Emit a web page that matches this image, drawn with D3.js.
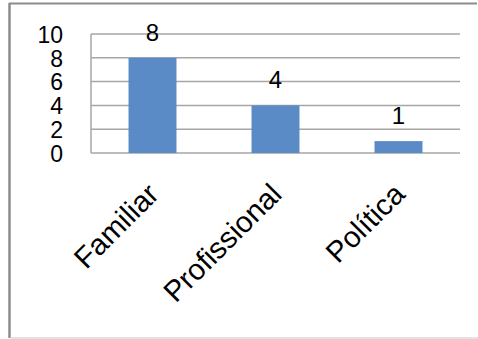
<!DOCTYPE html>
<html>
<head>
<meta charset="utf-8">
<script src="https://cdn.jsdelivr.net/npm/d3@7"></script>
<style>
  html, body { margin: 0; padding: 0; background: #fff; }
  svg { display: block; }
  text { font-family: "Liberation Sans", Arial, sans-serif; fill: #000; }
</style>
</head>
<body>
<svg id="chart" width="478" height="339"></svg>
<script>
// Categories and counts
const categories = ["Familiar", "Profissional", "Política"];
const values = [8, 4, 1];
const yTicks = [0, 2, 4, 6, 8, 10];

const svg = d3.select("#chart");

// Frame around the chart
svg.append("line").attr("x1", 9).attr("x2", 477).attr("y1", 3.5).attr("y2", 3.5)
  .attr("stroke", "#8c8c8c").attr("stroke-width", 2);
svg.append("line").attr("x1", 9.5).attr("x2", 9.5).attr("y1", 3).attr("y2", 338)
  .attr("stroke", "#8c8c8c").attr("stroke-width", 2.5);
svg.append("line").attr("x1", 10).attr("x2", 478).attr("y1", 338).attr("y2", 338)
  .attr("stroke", "#d9d9d9").attr("stroke-width", 1.5);

const plot = { left: 91, right: 460, top: 34, bottom: 153 };

const x = d3.scaleBand().domain(categories).range([plot.left, plot.right]).paddingInner(0.61).paddingOuter(0.305);
const y = d3.scaleLinear().domain([0, 10]).range([plot.bottom, plot.top]);

// Gridlines
svg.append("g").selectAll("line").data(yTicks).join("line")
  .attr("x1", plot.left).attr("x2", plot.right)
  .attr("y1", d => y(d)).attr("y2", d => y(d))
  .attr("stroke", "#a6a6a6").attr("stroke-width", 1.5);

// Value axis line
svg.append("line").attr("x1", plot.left).attr("x2", plot.left)
  .attr("y1", plot.top).attr("y2", plot.bottom)
  .attr("stroke", "#a6a6a6").attr("stroke-width", 1.5);

// Y tick labels
const yAxis = d3.axisLeft(y).tickValues(yTicks).tickSize(0).tickPadding(28);
const gy = svg.append("g").attr("transform", `translate(${plot.left},0)`).call(yAxis);
gy.select(".domain").remove();
gy.selectAll("text").style("font-size", "23px").attr("font-family", null).attr("dy", "0.36em");

// Bars
svg.append("g").selectAll("rect").data(values).join("rect")
  .attr("x", (d, i) => x(categories[i]))
  .attr("width", x.bandwidth())
  .attr("y", d => y(d))
  .attr("height", d => y(0) - y(d))
  .attr("fill", "#5b8bc7");

// Value labels
svg.append("g").selectAll("text").data(values).join("text")
  .attr("x", (d, i) => x(categories[i]) + x.bandwidth() / 2)
  .attr("y", d => y(d) - 17)
  .attr("text-anchor", "middle")
  .style("font-size", "24px")
  .text(d => d);

// Rotated category labels
svg.append("g").selectAll("text").data(categories).join("text")
  .attr("transform", d => `translate(${x(d) + x.bandwidth() / 2 + 8},196) rotate(-45)`)
  .attr("text-anchor", "end")
  .style("font-size", "29.5px")
  .text(d => d);
</script>
</body>
</html>
